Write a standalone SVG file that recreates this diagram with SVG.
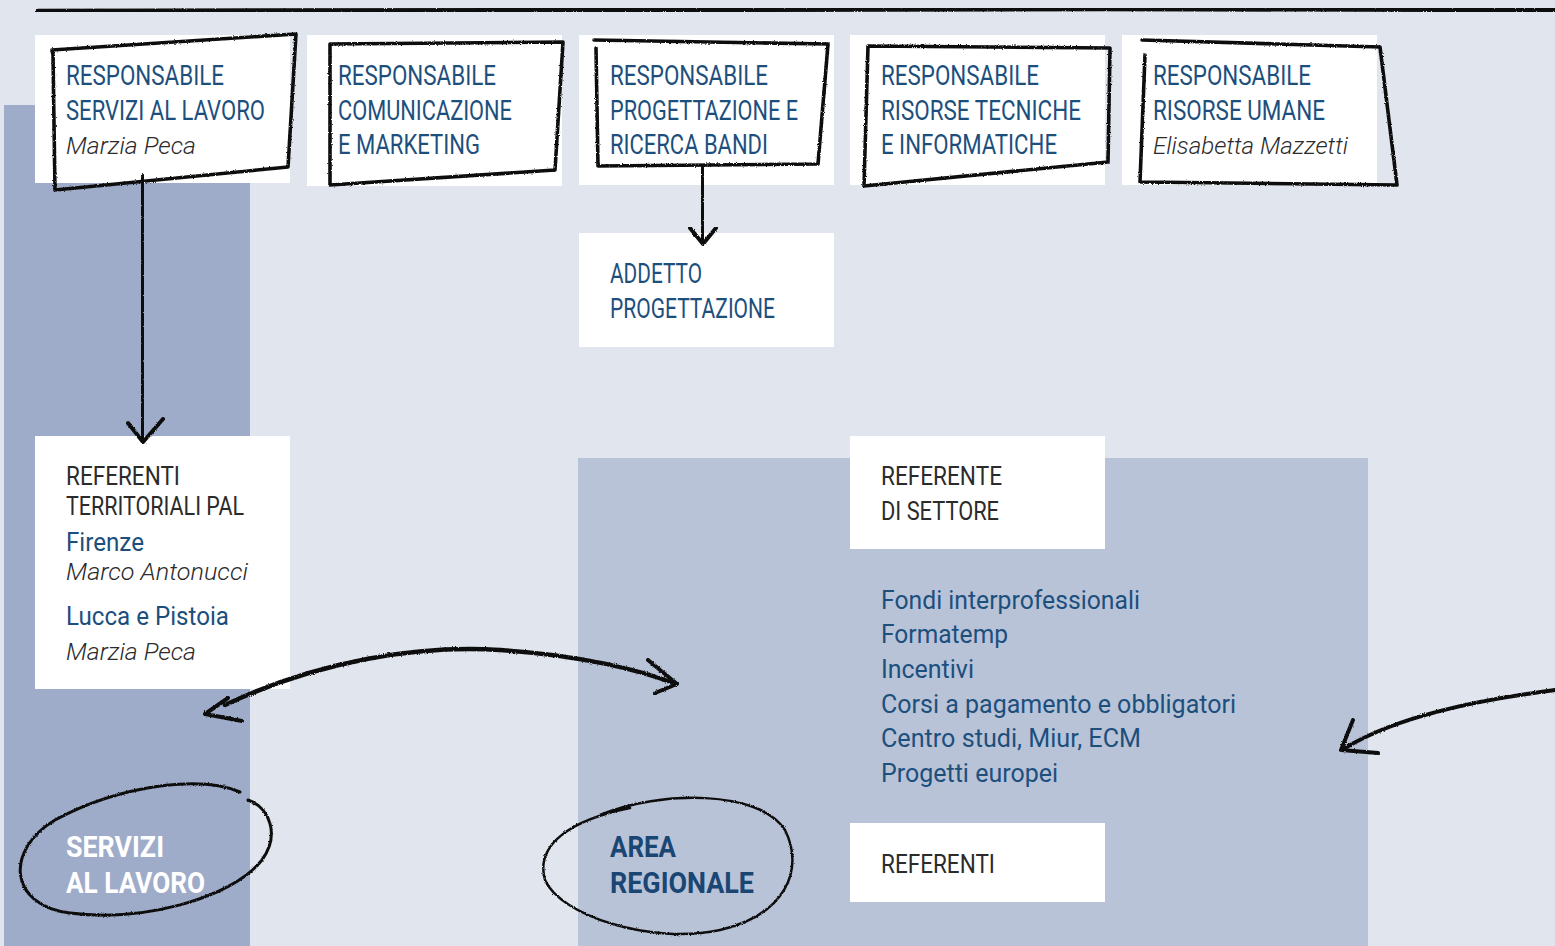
<svg xmlns="http://www.w3.org/2000/svg" width="1555" height="946" viewBox="0 0 1555 946">
<defs>
<filter id="rough" x="-5%" y="-5%" width="110%" height="110%">
<feTurbulence type="fractalNoise" baseFrequency="0.9" numOctaves="2" seed="3" result="n"/>
<feDisplacementMap in="SourceGraphic" in2="n" scale="2.5" xChannelSelector="R" yChannelSelector="G"/>
</filter>
</defs>
<style>
.bg{fill:#e0e5ee}
.box{fill:#ffffff}
.sk{fill:none;stroke:#111;stroke-width:3.6;stroke-linejoin:round;stroke-linecap:round;filter:url(#rough)}
.ln{fill:none;stroke:#111;stroke-linecap:round;stroke-linejoin:round;filter:url(#rough)}
.t{font-family:"Roboto","Liberation Sans",sans-serif;font-size:27px;fill:#1d4f7d}
.d{font-family:"Roboto","Liberation Sans",sans-serif;font-size:25px;fill:#2b2b2b}
.i{font-family:"Roboto","Liberation Sans",sans-serif;font-size:24px;font-style:italic;font-weight:300;fill:#2b2b2b}
.b{font-family:"Roboto","Liberation Sans",sans-serif;font-size:25px;fill:#1d4f7d}
.h{font-family:"Roboto","Liberation Sans",sans-serif;font-size:30px;font-weight:bold}
</style>
<rect class="bg" x="0" y="0" width="1555" height="946"/>
<rect x="4" y="105" width="246" height="841" fill="#9facc9"/>
<rect x="578" y="458" width="790" height="488" fill="#b8c3d8"/>
<path class="ln" d="M38 11 L600 10 L1100 9 L1555 10" stroke-width="4.5"/>

<g id="node-servizi-lavoro">
<rect class="box" x="35" y="35" width="255" height="148"/>
<path class="sk" d="M53 55 L52 50 L296 34 L288 167 L55 190 Z"/>
<text class="t" x="66" y="85" textLength="158" lengthAdjust="spacingAndGlyphs">RESPONSABILE</text>
<text class="t" x="66" y="120" textLength="199" lengthAdjust="spacingAndGlyphs">SERVIZI AL LAVORO</text>
<text class="i" x="66" y="154" textLength="130" lengthAdjust="spacingAndGlyphs">Marzia Peca</text>
</g>
<g id="node-comunicazione">
<rect class="box" x="307" y="35" width="255" height="151"/>
<path class="sk" d="M330 44 L563 42 L555 170 L330 185 Z"/>
<text class="t" x="338" y="85" textLength="158" lengthAdjust="spacingAndGlyphs">RESPONSABILE</text>
<text class="t" x="338" y="120" textLength="174" lengthAdjust="spacingAndGlyphs">COMUNICAZIONE</text>
<text class="t" x="338" y="154" textLength="142" lengthAdjust="spacingAndGlyphs">E MARKETING</text>
</g>
<g id="node-progettazione">
<rect class="box" x="579" y="35" width="255" height="150"/>
<path class="sk" d="M594 40 L828 44 L818 164 L598 166 L596 48"/>
<text class="t" x="610" y="85" textLength="158" lengthAdjust="spacingAndGlyphs">RESPONSABILE</text>
<text class="t" x="610" y="120" textLength="188" lengthAdjust="spacingAndGlyphs">PROGETTAZIONE E</text>
<text class="t" x="610" y="154" textLength="158" lengthAdjust="spacingAndGlyphs">RICERCA BANDI</text>
</g>
<g id="node-risorse-tecniche">
<rect class="box" x="850" y="35" width="255" height="150"/>
<path class="sk" d="M869 46 L1110 48 L1108 162 L864 186 L868 46"/>
<text class="t" x="881" y="85" textLength="158" lengthAdjust="spacingAndGlyphs">RESPONSABILE</text>
<text class="t" x="881" y="120" textLength="200" lengthAdjust="spacingAndGlyphs">RISORSE TECNICHE</text>
<text class="t" x="881" y="154" textLength="176" lengthAdjust="spacingAndGlyphs">E INFORMATICHE</text>
</g>
<g id="node-risorse-umane">
<rect class="box" x="1122" y="35" width="255" height="150"/>
<path class="sk" d="M1142 40 L1380 47 L1397 185 L1140 182 L1145 55"/>
<text class="t" x="1153" y="85" textLength="158" lengthAdjust="spacingAndGlyphs">RESPONSABILE</text>
<text class="t" x="1153" y="120" textLength="172" lengthAdjust="spacingAndGlyphs">RISORSE UMANE</text>
<text class="i" x="1153" y="154" textLength="195" lengthAdjust="spacingAndGlyphs">Elisabetta Mazzetti</text>
</g>
<g id="node-addetto">
<rect class="box" x="579" y="233" width="255" height="114"/>
<text class="t" x="610" y="283" textLength="92" lengthAdjust="spacingAndGlyphs">ADDETTO</text>
<text class="t" x="610" y="318" textLength="165" lengthAdjust="spacingAndGlyphs">PROGETTAZIONE</text>
</g>
<g id="node-referenti-territoriali">
<rect class="box" x="35" y="436" width="255" height="253"/>
<text class="d" x="66" y="485" textLength="114" lengthAdjust="spacingAndGlyphs">REFERENTI</text>
<text class="d" x="66" y="515" textLength="178" lengthAdjust="spacingAndGlyphs">TERRITORIALI PAL</text>
<text class="b" x="66" y="551" textLength="78" lengthAdjust="spacingAndGlyphs">Firenze</text>
<text class="i" x="66" y="580" textLength="182" lengthAdjust="spacingAndGlyphs">Marco Antonucci</text>
<text class="b" x="66" y="625" textLength="163" lengthAdjust="spacingAndGlyphs">Lucca e Pistoia</text>
<text class="i" x="66" y="660" textLength="130" lengthAdjust="spacingAndGlyphs">Marzia Peca</text>
</g>
<g id="node-referente-settore">
<rect class="box" x="850" y="436" width="255" height="113"/>
<text class="d" x="881" y="485" textLength="121" lengthAdjust="spacingAndGlyphs">REFERENTE</text>
<text class="d" x="881" y="520" textLength="118" lengthAdjust="spacingAndGlyphs">DI SETTORE</text>
</g>
<g id="node-settori-list">
<text class="b" x="881" y="609" textLength="259" lengthAdjust="spacingAndGlyphs">Fondi interprofessionali</text>
<text class="b" x="881" y="643" textLength="127" lengthAdjust="spacingAndGlyphs">Formatemp</text>
<text class="b" x="881" y="678" textLength="93" lengthAdjust="spacingAndGlyphs">Incentivi</text>
<text class="b" x="881" y="713" textLength="355" lengthAdjust="spacingAndGlyphs">Corsi a pagamento e obbligatori</text>
<text class="b" x="881" y="747" textLength="260" lengthAdjust="spacingAndGlyphs">Centro studi, Miur, ECM</text>
<text class="b" x="881" y="782" textLength="177" lengthAdjust="spacingAndGlyphs">Progetti europei</text>
</g>
<g id="node-referenti">
<rect class="box" x="850" y="823" width="255" height="79"/>
<text class="d" x="881" y="873" textLength="114" lengthAdjust="spacingAndGlyphs">REFERENTI</text>
</g>
<g id="node-servizi-al-lavoro">
<path class="ln" stroke-width="3" d="M240 792 C200 775 120 785 55 820 C5 850 8 905 70 913 C140 922 230 900 262 860 C280 835 270 808 248 800"/>
<text class="h" x="66" y="857" fill="#ffffff" textLength="98" lengthAdjust="spacingAndGlyphs">SERVIZI</text>
<text class="h" x="66" y="893" fill="#ffffff" textLength="139" lengthAdjust="spacingAndGlyphs">AL LAVORO</text>
</g>
<g id="node-area-regionale">
<path class="ln" stroke-width="2.5" d="M600 815 C660 790 760 790 785 830 C805 870 785 915 720 930 C650 945 560 915 545 880 C535 845 570 820 630 808"/>
<text class="h" x="610" y="857" fill="#1a4674" textLength="66" lengthAdjust="spacingAndGlyphs">AREA</text>
<text class="h" x="610" y="893" fill="#1a4674" textLength="144" lengthAdjust="spacingAndGlyphs">REGIONALE</text>
</g>
<g id="connectors">
<path class="ln" stroke-width="4" d="M143 176 L142 300 L143 440"/>
<path class="ln" stroke-width="4" d="M128 423 L143 442 L163 419"/>
<path class="ln" stroke-width="4" d="M703 166 L702 210 L703 244"/>
<path class="ln" stroke-width="4" d="M690 228 L703 244 L716 228"/>
<path class="ln" stroke-width="4.5" d="M225 705 C320 660 420 645 500 650 C580 655 640 670 676 684"/>
<path class="ln" stroke-width="4" d="M228 698 L205 714 L242 721"/>
<path class="ln" stroke-width="4" d="M648 660 L677 684 L655 693"/>
<path class="ln" stroke-width="4" d="M1555 690 C1480 700 1400 715 1345 748"/>
<path class="ln" stroke-width="4" d="M1353 720 L1341 750 L1378 753"/>
</g>
</svg>
